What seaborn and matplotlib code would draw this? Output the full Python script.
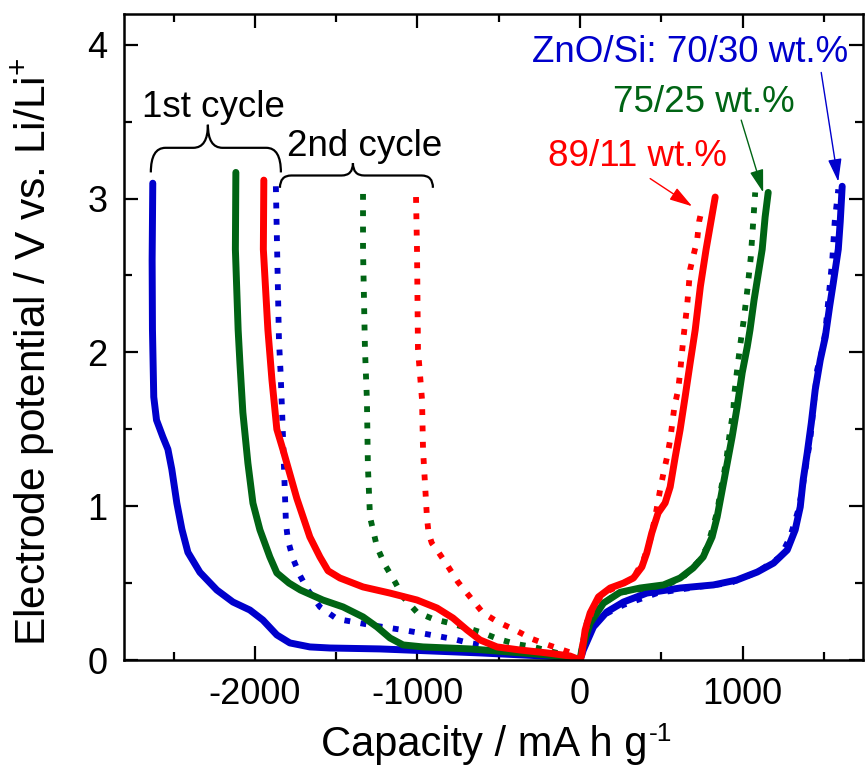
import matplotlib
matplotlib.use("Agg")
import matplotlib.pyplot as plt
import seaborn as sns
from matplotlib.path import Path
from matplotlib.patches import PathPatch
from matplotlib.ticker import MultipleLocator

# 70/30 wt.% (blue), 1st cycle: discharge then charge
cap_7030_1st = [-2628, -2632, -2630, -2626, -2622, -2605, -2566, -2535, -2511, -2480, -2449, -2412,
                -2338, -2234, -2135, -2031, -1951, -1865, -1785, -1662, -1538, -1231, -615, -105, 0,
                20, 82, 164, 267, 410, 615, 820, 964, 1090, 1190, 1274, 1323, 1354, 1372, 1397, 1422,
                1446, 1477, 1508, 1535, 1557, 1588, 1600, 1612]
v_7030_1st = [3.10, 2.60, 2.15, 1.93, 1.71, 1.56, 1.45, 1.37, 1.24, 1.02, 0.85, 0.70,
              0.57, 0.455, 0.377, 0.325, 0.26, 0.163, 0.111, 0.085, 0.078, 0.072, 0.046, 0.02, 0.0,
              0.065, 0.215, 0.312, 0.377, 0.435, 0.468, 0.488, 0.52, 0.572, 0.63, 0.715, 0.846, 0.995, 1.17, 1.346, 1.54,
              1.756, 1.95, 2.10, 2.30, 2.45, 2.67, 2.85, 3.08]
# 70/30 wt.%, 2nd cycle
cap_7030_2nd = [-1871, -1862, -1852, -1842, -1834, -1830, -1820, -1809, -1797, -1766, -1723, -1674,
                -1600, -1495, -1292, -1089, -985, -880, -782, -683, -572, -474, -369, -265, -166, -62, 0,
                31, 123, 267, 474, 720, 923, 1090, 1231, 1292, 1342, 1366, 1385, 1415, 1434, 1458, 1489,
                1508, 1525, 1551, 1566, 1588]
v_7030_2nd = [3.08, 2.60, 2.08, 1.87, 1.65, 1.54, 1.22, 0.89, 0.78, 0.66, 0.55, 0.455,
              0.345, 0.267, 0.228, 0.195, 0.176, 0.156, 0.137, 0.111, 0.091, 0.078, 0.059, 0.046, 0.033, 0.02, 0.0,
              0.111, 0.28, 0.358, 0.435, 0.475, 0.50, 0.572, 0.67, 0.80, 0.975, 1.105, 1.236, 1.43, 1.626, 1.886, 2.016,
              2.13, 2.32, 2.60, 2.85, 3.06]

# 75/25 wt.% (green)
cap_7525_1st = [-2117, -2120, -2103, -2092, -2074, -2043, -2012, -1969, -1908, -1865, -1790, -1720,
                -1582, -1458, -1335, -1249, -1169, -1089, -966, -677, -203, 0,
                10, 62, 144, 246, 369, 513, 615, 695, 757, 812, 843, 874, 905, 935, 966, 997, 1028,
                1045, 1070, 1120, 1138, 1157]
v_7525_1st = [3.17, 2.67, 2.146, 1.93, 1.61, 1.28, 1.02, 0.846, 0.67, 0.566, 0.50, 0.455,
              0.39, 0.345, 0.28, 0.215, 0.143, 0.098, 0.085, 0.072, 0.033, 0.0,
              0.065, 0.24, 0.37, 0.44, 0.468, 0.488, 0.533, 0.598, 0.67, 0.80, 0.93, 1.105, 1.28, 1.45, 1.646, 1.867, 2.036,
              2.146, 2.34, 2.67, 2.88, 3.04]
cap_7525_2nd = [-1335, -1335, -1323, -1311, -1305, -1292, -1249, -1200, -1138, -1089, -1003, -905,
                -800, -695, -597, -505, -394, -289, -191, -92, 0,
                10, 43, 123, 226, 410, 535, 634, 726, 782, 812, 843, 862, 880, 898, 911, 923, 942, 948,
                960, 972, 985, 1005, 1028, 1050, 1077]
v_7525_2nd = [3.03, 2.67, 2.02, 1.69, 1.26, 0.93, 0.735, 0.618, 0.507, 0.41, 0.31, 0.267,
              0.24, 0.208, 0.176, 0.137, 0.104, 0.085, 0.059, 0.033, 0.0,
              0.08, 0.25, 0.345, 0.435, 0.468, 0.488, 0.54, 0.637, 0.735, 0.846, 0.963, 1.086, 1.184, 1.288, 1.398, 1.496, 1.613, 1.724,
              1.834, 1.938, 2.049, 2.20, 2.40, 2.62, 3.04]

# 89/11 wt.% (red)
cap_8911_1st = [-1945, -1948, -1920, -1895, -1865, -1828, -1742, -1662, -1600, -1550, -1477, -1335,
                -1169, -1003, -880, -782, -695, -615, -511, -369, -203, -62, 0,
                10, 31, 62, 113, 185, 267, 328, 380, 410, 441, 480, 523, 554, 585, 615, 646, 677,
                708, 740, 775, 831]
v_8911_1st = [3.12, 2.67, 2.146, 1.82, 1.50, 1.37, 1.05, 0.80, 0.67, 0.58, 0.533, 0.475,
              0.435, 0.39, 0.338, 0.273, 0.195, 0.13, 0.085, 0.065, 0.046, 0.026, 0.0,
              0.033, 0.195, 0.306, 0.41, 0.468, 0.50, 0.533, 0.605, 0.696, 0.826, 0.956, 1.021, 1.125, 1.32, 1.496, 1.711, 1.932,
              2.146, 2.43, 2.67, 3.01]
cap_8911_2nd = [-1009, -1003, -997, -972, -966, -942, -932, -912, -880, -818, -751, -677, -597,
                -505, -400, -295, -197, -105, -18, 0,
                20, 82, 144, 226, 328, 390, 431, 462, 492, 513, 535, 554, 580, 603, 615, 634, 658,
                677, 695, 720, 732, 751]
v_8911_2nd = [3.01, 2.67, 2.02, 1.69, 1.37, 0.93, 0.826, 0.76, 0.715, 0.618, 0.507, 0.41, 0.306,
              0.247, 0.195, 0.137, 0.098, 0.065, 0.033, 0.0,
              0.143, 0.345, 0.435, 0.475, 0.533, 0.65, 0.78, 0.93, 1.105, 1.216, 1.32, 1.431, 1.646, 1.756, 1.867, 2.08, 2.30,
              2.54, 2.62, 2.73, 2.85, 2.94]

blue = "#0000CC"
green = "#006414"
red = "#FF0000"

sns.set_style("ticks")
plt.rcParams["font.family"] = ["Liberation Sans", "DejaVu Sans"]
plt.rcParams["mathtext.fontset"] = "custom"
plt.rcParams["mathtext.rm"] = "Liberation Sans"
plt.rcParams["mathtext.default"] = "regular"
plt.rcParams["axes.unicode_minus"] = False
for key in ["text.color", "axes.labelcolor", "xtick.color", "ytick.color", "axes.edgecolor"]:
    plt.rcParams[key] = "black"

fig = plt.figure(figsize=(8.65, 7.66), dpi=100)
ax = fig.add_axes([124 / 865, 1 - 660 / 766, (863 - 124) / 865, (660 - 14) / 766])

solid_lw = 5.0
dot_lw = 4.2
dots = (0, (1, 1.8))
curves = [
    (cap_7030_1st, v_7030_1st, blue, "-", solid_lw),
    (cap_7030_2nd, v_7030_2nd, blue, dots, dot_lw),
    (cap_7525_1st, v_7525_1st, green, "-", solid_lw),
    (cap_7525_2nd, v_7525_2nd, green, dots, dot_lw),
    (cap_8911_1st, v_8911_1st, red, "-", solid_lw),
    (cap_8911_2nd, v_8911_2nd, red, dots, dot_lw),
]
for cap, v, col, ls, w in curves:
    sns.lineplot(x=cap, y=v, sort=False, estimator=None, color=col, lw=w, linestyle=ls, ax=ax)

ax.set_xlim(-2805, 1740)
ax.set_ylim(0, 4.2)
ax.xaxis.set_major_locator(MultipleLocator(1000))
ax.xaxis.set_minor_locator(MultipleLocator(500))
ax.yaxis.set_major_locator(MultipleLocator(1))
ax.yaxis.set_minor_locator(MultipleLocator(0.5))
ax.tick_params(which="both", direction="in", top=True, right=True, width=1.6, labelsize=26, pad=12)
ax.tick_params(which="major", length=10)
ax.tick_params(which="minor", length=6)
for sp in ax.spines.values():
    sp.set_linewidth(1.8)

# x label with a plain-hyphen superscript
ax.set_xlabel("Capacity / mA h g", fontsize=30)
ax.xaxis.set_label_coords(0.487, -0.1)
ax.annotate("-1", xy=(1.0, 0.0), xycoords=ax.xaxis.label, xytext=(1, 17),
            textcoords="offset points", fontsize=19, ha="left", va="baseline")
ax.set_ylabel("Electrode potential / V vs. Li/Li$^{+}$", fontsize=30.5)
ax.yaxis.set_label_coords(-0.09, 0.477)


def brace(x0, x1, xm, yb, ye, yt, r):
    verts = [(x0, ye), (x0, yb), (x0 + r, yb), (xm - r, yb), (xm, yb), (xm, yt),
             (xm, yb), (xm + r, yb), (x1 - r, yb), (x1, yb), (x1, ye)]
    codes = [Path.MOVETO, Path.CURVE3, Path.CURVE3, Path.LINETO, Path.CURVE3, Path.CURVE3,
             Path.CURVE3, Path.CURVE3, Path.LINETO, Path.CURVE3, Path.CURVE3]
    ax.add_patch(PathPatch(Path(verts, codes), fill=False, lw=1.6, color="black"))


brace(-2640, -1840, -2289, 3.33, 3.17, 3.48, 90)
brace(-1846, -905, -1397, 3.15, 3.07, 3.23, 70)

ax.text(-2252, 3.53, "1st cycle", fontsize=26.5, ha="center", va="baseline")
ax.text(-1323, 3.28, "2nd cycle", fontsize=26.5, ha="center", va="baseline")
ax.text(677, 3.89, "ZnO/Si: 70/30 wt.%", fontsize=26.5, ha="center", va="baseline", color=blue)
ax.text(763, 3.56, "75/25 wt.%", fontsize=26.5, ha="center", va="baseline", color=green)
ax.text(351, 3.21, "89/11 wt.%", fontsize=26.5, ha="center", va="baseline", color=red)

arrow_kw = dict(arrowstyle="-|>,head_length=1.0,head_width=0.3", lw=1.0, shrinkA=0, shrinkB=0,
                mutation_scale=14)
ax.annotate("", xy=(1588, 3.11), xytext=(1483, 3.82), arrowprops=dict(color=blue, **arrow_kw))
ax.annotate("", xy=(1126, 3.04), xytext=(991, 3.51), arrowprops=dict(color=green, **arrow_kw))
ax.annotate("", xy=(689, 2.95), xytext=(431, 3.13), arrowprops=dict(color=red, **arrow_kw))

fig.savefig("out.png", dpi=100)
